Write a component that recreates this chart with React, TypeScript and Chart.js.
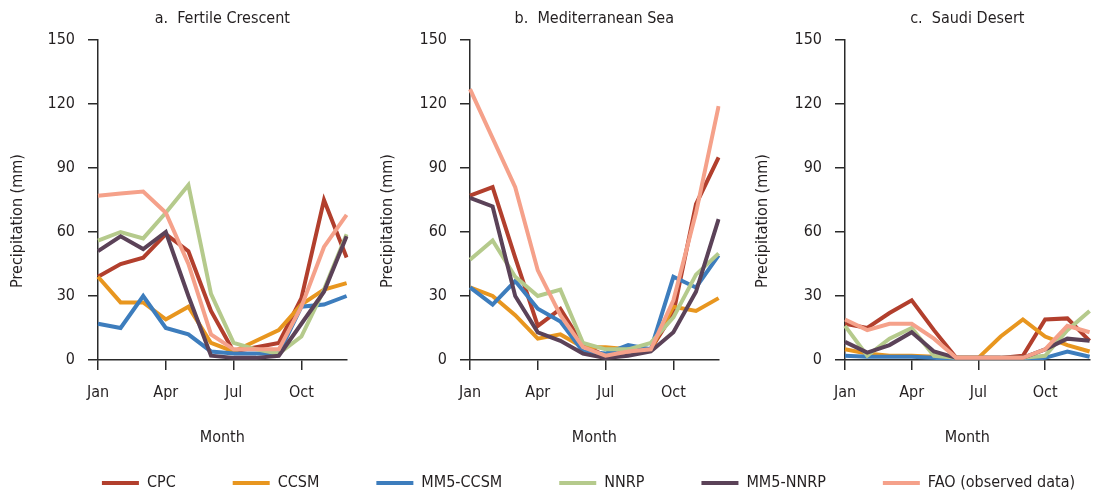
import React, { useEffect, useRef } from "react";
import { Chart, registerables } from "chart.js";

Chart.register(...registerables);

// ---------- data ----------
const months = ["Jan", "Feb", "Mar", "Apr", "May", "Jun", "Jul", "Aug", "Sep", "Oct", "Nov", "Dec"];
const xTickLabels = ["Jan", "Apr", "Jul", "Oct"];
const yMin = 0;
const yMax = 150;
const yStep = 30;

const seriesNames = ["CPC", "CCSM", "MM5-CCSM", "NNRP", "MM5-NNRP", "FAO (observed data)"];
const seriesColors = ["#b23f2d", "#e8961f", "#3d7dbd", "#b5ca8c", "#5b4258", "#f5a18a"];

const panelTitles = ["a.  Fertile Crescent", "b.  Mediterranean Sea", "c.  Saudi Desert"];
const xAxisTitle = "Month";
const yAxisTitle = "Precipitation (mm)";

// a. Fertile Crescent
const cpcA = [39, 45, 48, 59, 51, 23, 4, 6, 8, 29, 75, 48];
const ccsmA = [39, 27, 27, 19, 25, 8, 4, 9, 14, 26, 33, 36];
const mm5ccsmA = [17, 15, 30, 15, 12, 4, 3, 3, 3, 25, 26, 30];
const nnrpA = [56, 60, 57, 69, 82, 31, 8, 5, 3, 11, 33, 59];
const mm5nnrpA = [51, 58, 52, 60, 30, 2, 1, 1, 2, 17, 32, 58];
const faoA = [77, 78, 79, 69, 45, 12, 5, 5, 5, 25, 53, 68];

// b. Mediterranean Sea
const cpcB = [77, 81, 48, 16, 24, 7, 2, 4, 5, 22, 73, 95];
const ccsmB = [34, 30, 21, 10, 12, 6, 6, 5, 5, 25, 23, 29];
const mm5ccsmB = [34, 26, 37, 24, 18, 4, 3, 7, 5, 39, 34, 49];
const nnrpB = [47, 56, 39, 30, 33, 8, 5, 5, 8, 20, 40, 50];
const mm5nnrpB = [76, 72, 30, 13, 9, 3, 1, 2, 4, 13, 32, 66];
const faoB = [127, 104, 81, 42, 21, 6, 2, 4, 5, 28, 69, 119];

// c. Saudi Desert
const cpcC = [17, 15, 22, 28, 14, 1, 1, 1, 2, 19, 19.5, 9];
const ccsmC = [5, 3, 2, 2, 1.5, 1, 1, 11, 19, 11, 7, 4];
const mm5ccsmC = [2, 1.5, 1.5, 1.5, 1, 0.5, 0.5, 0.5, 0.5, 1, 4, 1.5];
const nnrpC = [16, 2, 10, 15, 2, 1, 1, 1, 1, 2, 14, 23];
const mm5nnrpC = [8.5, 3.5, 7, 13, 4, 1, 1, 1, 1, 5, 10, 9];
const faoC = [19, 14, 17, 17, 10, 1, 1, 1, 1, 5, 16, 13];

const panelSeries = [
  [cpcA, ccsmA, mm5ccsmA, nnrpA, mm5nnrpA, faoA],
  [cpcB, ccsmB, mm5ccsmB, nnrpB, mm5nnrpB, faoB],
  [cpcC, ccsmC, mm5ccsmC, nnrpC, mm5nnrpC, faoC],
];

// ---------- style ----------
const FONT = "'DejaVu Sans Condensed', 'Liberation Sans Narrow', 'Liberation Sans', Arial, sans-serif";
const TEXT = "#231f20";
const AXIS = "#2a2a2a";
const FS = 16;

Chart.defaults.font.family = FONT;

const panelLayout = [
  { left: 0, width: 360, yWidth: 98, padRight: 10 },
  { left: 370, width: 362, yWidth: 100, padRight: 10 },
  { left: 745, width: 358, yWidth: 100, padRight: 7 },
];
const PANEL_H = 447;
const X_AXIS_H = 87;

// y-axis title drawn slightly below the axis centre, as in the reference
const yTitlePlugin = {
  id: "yTitleShifted",
  afterDraw(chart: any) {
    const s = chart.scales.y;
    if (!s) return;
    const ctx = chart.ctx;
    ctx.save();
    ctx.translate(s.left + 18, (s.top + s.bottom) / 2 + 21);
    ctx.rotate(-Math.PI / 2);
    ctx.font = `${FS}px ${FONT}`;
    ctx.fillStyle = TEXT;
    ctx.textAlign = "center";
    ctx.textBaseline = "middle";
    ctx.fillText(yAxisTitle, 0, 0);
    ctx.restore();
  },
};

function Panel({ idx }: { idx: number }) {
  const ref = useRef<HTMLCanvasElement | null>(null);
  useEffect(() => {
    if (!ref.current) return;
    const lay = panelLayout[idx];
    const chart = new Chart(ref.current, {
      type: "line",
      data: {
        labels: months,
        datasets: seriesNames.map((name, i) => ({
          label: name,
          data: panelSeries[idx][i],
          borderColor: seriesColors[i],
          backgroundColor: seriesColors[i],
          borderWidth: 4,
          pointRadius: 0,
          pointHoverRadius: 0,
          tension: 0,
          fill: false,
          order: seriesNames.length - 1 - i,
        })),
      },
      options: {
        responsive: false,
        animation: false,
        events: [],
        layout: { padding: { left: 0, right: lay.padRight, top: 0, bottom: 0 } },
        plugins: {
          legend: { display: false },
          tooltip: { enabled: false },
          title: {
            display: true,
            text: panelTitles[idx],
            fullSize: false,
            color: TEXT,
            font: { size: FS, weight: "normal" },
            padding: { top: 9.4, bottom: 11.4 },
          },
        },
        scales: {
          x: {
            type: "category",
            offset: false,
            grid: {
              drawOnChartArea: false,
              tickLength: 10,
              lineWidth: 1.5,
              color: (c: any) => (c.index % 3 === 0 ? AXIS : "rgba(0,0,0,0)"),
            },
            border: { display: true, color: AXIS, width: 1.5 },
            ticks: {
              autoSkip: false,
              maxRotation: 0,
              padding: 13.4,
              color: TEXT,
              font: { size: FS },
              callback: (_v: any, i: number) => (xTickLabels.includes(months[i]) ? months[i] : ""),
            },
            title: { display: true, text: xAxisTitle, color: TEXT, font: { size: FS }, padding: 0 },
            afterFit: (s: any) => {
              s.height = X_AXIS_H;
            },
          },
          y: {
            min: yMin,
            max: yMax,
            grid: { drawOnChartArea: false, tickLength: 10, lineWidth: 1.5, color: AXIS },
            border: { display: true, color: AXIS, width: 1.5 },
            ticks: { stepSize: yStep, padding: 13, color: TEXT, font: { size: FS } },
            title: { display: false },
            afterFit: (s: any) => {
              s.width = lay.yWidth;
            },
          },
        },
      } as any,
      plugins: [yTitlePlugin],
    });
    return () => chart.destroy();
  }, [idx]);
  const lay = panelLayout[idx];
  return (
    <canvas
      ref={ref}
      width={lay.width}
      height={PANEL_H}
      style={{ position: "absolute", left: lay.left, top: 0, width: lay.width, height: PANEL_H }}
    />
  );
}

const LEGEND_W = 1177;
const LEGEND_H = 300;

function Legend() {
  const ref = useRef<HTMLCanvasElement | null>(null);
  useEffect(() => {
    if (!ref.current) return;
    const chart = new Chart(ref.current, {
      type: "line",
      data: {
        labels: [],
        datasets: seriesNames.map((name, i) => ({
          label: name,
          data: [],
          borderColor: seriesColors[i],
          backgroundColor: seriesColors[i],
          borderWidth: 0,
        })),
      },
      options: {
        responsive: false,
        animation: false,
        events: [],
        layout: { padding: { left: 0, right: 0, top: 18, bottom: 0 } },
        scales: { x: { display: false }, y: { display: false } },
        plugins: {
          tooltip: { enabled: false },
          legend: {
            display: true,
            position: "top",
            labels: {
              boxWidth: 37,
              boxHeight: 4,
              padding: 57,
              color: TEXT,
              font: { size: FS },
            },
          },
        },
      } as any,
    });
    return () => chart.destroy();
  }, []);
  return (
    <canvas
      ref={ref}
      width={LEGEND_W}
      height={LEGEND_H}
      style={{ position: "absolute", left: 0, top: 400, width: LEGEND_W, height: LEGEND_H }}
    />
  );
}

export default function App() {
  return (
    <div
      style={{
        position: "absolute",
        left: 0,
        top: 0,
        width: 1103,
        height: 495,
        background: "#ffffff",
        overflow: "hidden",
      }}
    >
      <Panel idx={0} />
      <Panel idx={1} />
      <Panel idx={2} />
      <Legend />
    </div>
  );
}
